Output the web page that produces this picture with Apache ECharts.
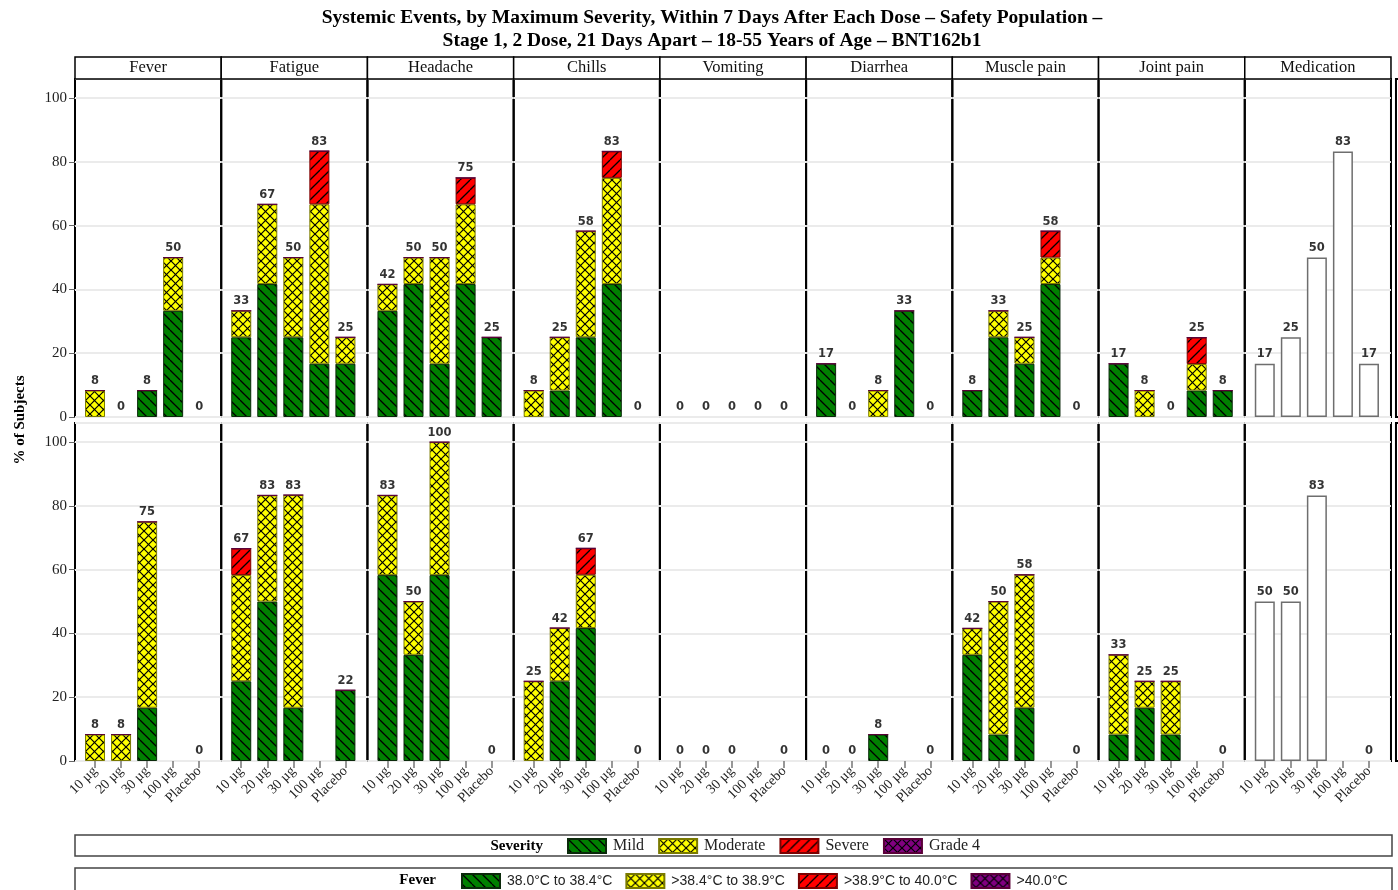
<!DOCTYPE html>
<html>
<head>
<meta charset="utf-8">
<script src="https://cdn.jsdelivr.net/npm/echarts@6.0.0/dist/echarts.min.js"></script>
<style>html,body{margin:0;padding:0;background:#fff}#chart{width:1398px;height:890px}</style>
</head>
<body>
<div id="chart"></div>
<script>
// ---------------- DATA ----------------
const categories = ['10 µg', '20 µg', '30 µg', '100 µg', 'Placebo'];
const panels = ['Fever', 'Fatigue', 'Headache', 'Chills', 'Vomiting', 'Diarrhea', 'Muscle pain', 'Joint pain', 'Medication'];
const yTicks = [0, 20, 40, 60, 80, 100];

// Dose 1 (top row): one row per event panel (Fever..Joint pain), values per category (% of subjects)
const mildDose1 = [
  [0, 0, 8.3, 33.3, 0],
  [25, 41.7, 25, 16.7, 16.7],
  [33.3, 41.7, 16.7, 41.7, 25],
  [0, 8.3, 25, 41.7, 0],
  [0, 0, 0, 0, 0],
  [16.7, 0, 0, 33.3, 0],
  [8.3, 25, 16.7, 41.7, 0],
  [16.7, 0, 0, 8.3, 8.3]
];
const moderateDose1 = [
  [8.3, 0, 0, 16.7, 0],
  [8.3, 25, 25, 50, 8.3],
  [8.3, 8.3, 33.3, 25, 0],
  [8.3, 16.7, 33.3, 33.3, 0],
  [0, 0, 0, 0, 0],
  [0, 0, 8.3, 0, 0],
  [0, 8.3, 8.3, 8.3, 0],
  [0, 8.3, 0, 8.3, 0]
];
const severeDose1 = [
  [0, 0, 0, 0, 0],
  [0, 0, 0, 16.7, 0],
  [0, 0, 0, 8.3, 0],
  [0, 0, 0, 8.3, 0],
  [0, 0, 0, 0, 0],
  [0, 0, 0, 0, 0],
  [0, 0, 0, 8.3, 0],
  [0, 0, 0, 8.3, 0]
];
const grade4Dose1 = [
  [0, 0, 0, 0, 0], [0, 0, 0, 0, 0], [0, 0, 0, 0, 0], [0, 0, 0, 0, 0],
  [0, 0, 0, 0, 0], [0, 0, 0, 0, 0], [0, 0, 0, 0, 0], [0, 0, 0, 0, 0]
];
const medicationDose1 = [16.7, 25, 50, 83.3, 16.7];

// Dose 2 (bottom row): 100 µg group has no data
const mildDose2 = [
  [0, 0, 16.7, null, 0],
  [25, 50, 16.7, null, 22.2],
  [58.3, 33.3, 58.3, null, 0],
  [0, 25, 41.7, null, 0],
  [0, 0, 0, null, 0],
  [0, 0, 8.3, null, 0],
  [33.3, 8.3, 16.7, null, 0],
  [8.3, 16.7, 8.3, null, 0]
];
const moderateDose2 = [
  [8.3, 8.3, 58.3, null, 0],
  [33.3, 33.3, 66.7, null, 0],
  [25, 16.7, 41.7, null, 0],
  [25, 16.7, 16.7, null, 0],
  [0, 0, 0, null, 0],
  [0, 0, 0, null, 0],
  [8.3, 41.7, 41.7, null, 0],
  [25, 8.3, 16.7, null, 0]
];
const severeDose2 = [
  [0, 0, 0, null, 0],
  [8.3, 0, 0, null, 0],
  [0, 0, 0, null, 0],
  [0, 0, 8.3, null, 0],
  [0, 0, 0, null, 0],
  [0, 0, 0, null, 0],
  [0, 0, 0, null, 0],
  [0, 0, 0, null, 0]
];
const grade4Dose2 = [
  [0, 0, 0, null, 0], [0, 0, 0, null, 0], [0, 0, 0, null, 0], [0, 0, 0, null, 0],
  [0, 0, 0, null, 0], [0, 0, 0, null, 0], [0, 0, 0, null, 0], [0, 0, 0, null, 0]
];
const medicationDose2 = [50, 50, 83.3, null, 0];

const severityNames = ['Mild', 'Moderate', 'Severe', 'Grade 4'];
const feverNames = ['38.0°C to 38.4°C', '>38.4°C to 38.9°C', '>38.9°C to 40.0°C', '>40.0°C'];
const titleLines = [
  'Systemic Events, by Maximum Severity, Within 7 Days After Each Dose – Safety Population –',
  'Stage 1, 2 Dose, 21 Days Apart – 18-55 Years of Age – BNT162b1'
];

// ---------------- STYLE / LAYOUT ----------------
const SERIF = "'Liberation Serif', 'DejaVu Serif', serif";
const SANS = "'Liberation Sans', 'DejaVu Sans', sans-serif";
const X0 = 75, PW = 146.22, ROW_TOP = [79, 423], ROW_H = 338, PAD_L = 7, PAD_R = 9;
const YMAX = 106;

function makePattern(bg, dirs, size, lw, lineColor) {
  const c = document.createElement('canvas');
  c.width = size; c.height = size;
  const g = c.getContext('2d');
  g.fillStyle = bg; g.fillRect(0, 0, size, size);
  g.strokeStyle = lineColor || '#000'; g.lineWidth = lw;
  dirs.forEach(d => {
    for (let o = -size; o <= size; o += size) {
      g.beginPath();
      if (d === '\\') { g.moveTo(o, 0); g.lineTo(o + size, size); }
      else { g.moveTo(o, size); g.lineTo(o + size, 0); }
      g.stroke();
    }
  });
  return { image: c, repeat: 'repeat' };
}
const segStyles = [
  { color: makePattern('#008000', ['\\'], 10, 1.3), borderColor: '#0b2a0b', borderWidth: 1 },
  { color: makePattern('#ffff00', ['\\', '/'], 9, 1.2), borderColor: '#7a7a00', borderWidth: 1 },
  { color: makePattern('#ff0000', ['/'], 10, 1.3), borderColor: '#7a0000', borderWidth: 1 },
  { color: makePattern('#800080', ['\\', '/'], 9, 1.2), borderColor: '#5a0038', borderWidth: 1 }
];

const dose = [
  [mildDose1, moderateDose1, severeDose1, grade4Dose1, medicationDose1],
  [mildDose2, moderateDose2, severeDose2, grade4Dose2, medicationDose2]
];

const grids = [], xAxes = [], yAxes = [], series = [], graphics = [];
const NP = panels.length;

// background grids (border, gridlines, y axis)
for (let r = 0; r < 2; r++) {
  for (let i = 0; i < NP; i++) {
    const gi = grids.length;
    grids.push({ left: X0 + i * PW, top: ROW_TOP[r], width: PW, height: ROW_H, show: true,
      borderColor: '#000', borderWidth: 2, backgroundColor: 'rgba(0,0,0,0)' });
    xAxes.push({ type: 'value', gridIndex: gi, show: false, min: 0, max: 1 });
    yAxes.push({ type: 'value', gridIndex: gi, min: 0, max: YMAX, interval: 20,
      axisLine: { show: false },
      axisTick: { show: i === 0, length: 6, lineStyle: { color: '#666' } },
      axisLabel: { show: i === 0, showMaxLabel: false, fontFamily: SERIF, fontSize: 15, color: '#222', margin: 8,
        formatter: v => (yTicks.indexOf(v) >= 0 ? String(v) : '') },
      splitLine: { show: true, lineStyle: { color: '#ebebeb', width: 2 } } });
  }
}
// data grids
const DATA0 = grids.length;
for (let r = 0; r < 2; r++) {
  for (let i = 0; i < NP; i++) {
    const gi = grids.length;
    grids.push({ left: X0 + i * PW + PAD_L, top: ROW_TOP[r], width: PW - PAD_L - PAD_R, height: ROW_H });
    xAxes.push({ type: 'category', gridIndex: gi, data: categories,
      axisLine: { show: false },
      axisTick: { show: r === 1, alignWithLabel: true, length: 7, lineStyle: { color: '#777', width: 1.5 } },
      axisLabel: { show: r === 1, rotate: 45, interval: 0, fontFamily: SERIF, fontSize: 14, color: '#222', margin: 8 } });
    yAxes.push({ type: 'value', gridIndex: gi, min: 0, max: YMAX, show: false, splitLine: { show: false } });

    const lbl = {
      type: 'scatter', name: 'Total', xAxisIndex: gi, yAxisIndex: gi, symbolSize: 1,
      itemStyle: { color: 'rgba(0,0,0,0)' }, silent: true, z: 5,
      label: { show: true, position: 'top', distance: 3, fontFamily: "'DejaVu Sans', sans-serif",
        fontWeight: 'bold', fontSize: 11.5, color: '#000', formatter: p => String(Math.round(p.value)) }
    };
    if (i === NP - 1) {
      const med = dose[r][4];
      series.push({ type: 'bar', name: 'Medication', xAxisIndex: gi, yAxisIndex: gi, barWidth: 20,
        data: med.map(v => (v === null ? null : { value: v, itemStyle: { borderWidth: v > 0 ? 1.5 : 0 } })),
        itemStyle: { color: '#fff', borderColor: '#6e6e6e', borderWidth: 1.5 } });
      lbl.data = med;
    } else {
      const totals = categories.map((c, k) => {
        let s = 0;
        for (let q = 0; q < 4; q++) { const v = dose[r][q][i][k]; if (v === null) return null; s += v; }
        return s;
      });
      for (let q = 0; q < 4; q++) {
        const vals = dose[r][q][i];
        series.push({ type: 'bar', name: severityNames[q], xAxisIndex: gi, yAxisIndex: gi, stack: 'st' + gi,
          barWidth: 20, itemStyle: segStyles[q],
          data: vals.map((v, k) => (v === null ? null : {
            value: v,
            itemStyle: { borderWidth: (v > 0 || (q === 3 && totals[k] > 0)) ? 1 : 0 }
          })) });
      }
      lbl.data = totals;
    }
    series.push(lbl);
  }
}
// series only used for the fever legend swatches
for (let q = 0; q < 4; q++) {
  series.push({ type: 'bar', name: feverNames[q], xAxisIndex: DATA0, yAxisIndex: DATA0, stack: 'st' + DATA0,
    barWidth: 20, data: [], itemStyle: segStyles[q] });
}

// panel headers
for (let i = 0; i < NP; i++) {
  graphics.push({ type: 'rect', shape: { x: X0 + i * PW, y: 57, width: PW, height: 22 },
    style: { fill: '#fff', stroke: '#000', lineWidth: 1.5 }, z: 10 });
  graphics.push({ type: 'text', x: X0 + i * PW + PW / 2, y: 68, z: 11,
    style: { text: panels[i], textAlign: 'center', textVerticalAlign: 'middle', font: '16.5px ' + SERIF, fill: '#111' } });
}
// right-side partial frame
graphics.push({ type: 'rect', shape: { x: X0 + NP * PW + 5, y: ROW_TOP[0], width: 20, height: ROW_H },
  style: { fill: 'none', stroke: '#000', lineWidth: 2 }, z: 10 });
graphics.push({ type: 'rect', shape: { x: X0 + NP * PW + 5, y: ROW_TOP[1], width: 20, height: ROW_H },
  style: { fill: 'none', stroke: '#000', lineWidth: 2 }, z: 10 });
// y-axis title
graphics.push({ type: 'text', x: 20, y: 420, rotation: Math.PI / 2, z: 10,
  style: { text: '% of Subjects', textAlign: 'center', textVerticalAlign: 'middle', font: 'bold 15px ' + SERIF, fill: '#000' } });
// legend frames
graphics.push({ type: 'rect', shape: { x: 75, y: 835, width: 1317, height: 21 },
  style: { fill: 'none', stroke: '#444', lineWidth: 1.5 }, z: 1 });
graphics.push({ type: 'rect', shape: { x: 75, y: 868, width: 1317, height: 30 },
  style: { fill: 'none', stroke: '#444', lineWidth: 1.5 }, z: 1 });
graphics.push({ type: 'text', x: 543, y: 846, z: 10,
  style: { text: 'Severity', textAlign: 'right', textVerticalAlign: 'middle', font: 'bold 15px ' + SERIF, fill: '#000' } });
graphics.push({ type: 'text', x: 436, y: 880, z: 10,
  style: { text: 'Fever', textAlign: 'right', textVerticalAlign: 'middle', font: 'bold 15px ' + SERIF, fill: '#000' } });

const option = {
  animation: false,
  backgroundColor: '#fff',
  title: { text: titleLines.join('\n'), left: 707, top: 1, textAlign: 'center',
    textStyle: { fontFamily: SERIF, fontSize: 19.5, fontWeight: 'bold', color: '#000', lineHeight: 23 } },
  legend: [
    { data: severityNames, left: 567, top: 838, padding: 0, icon: 'rect', itemWidth: 38, itemHeight: 14, itemGap: 14,
      selectedMode: false, textStyle: { fontFamily: SERIF, fontSize: 16, color: '#222', padding: [0, 0, 0, 2] } },
    { data: feverNames, left: 461, top: 873, padding: 0, icon: 'rect', itemWidth: 38, itemHeight: 14, itemGap: 13,
      selectedMode: false, textStyle: { fontFamily: SANS, fontSize: 14, color: '#222', padding: [0, 0, 0, 2] } }
  ],
  grid: grids, xAxis: xAxes, yAxis: yAxes, series: series, graphic: graphics
};
const chart = echarts.init(document.getElementById('chart'), null, { renderer: 'canvas' });
chart.setOption(option);
</script>
</body>
</html>
